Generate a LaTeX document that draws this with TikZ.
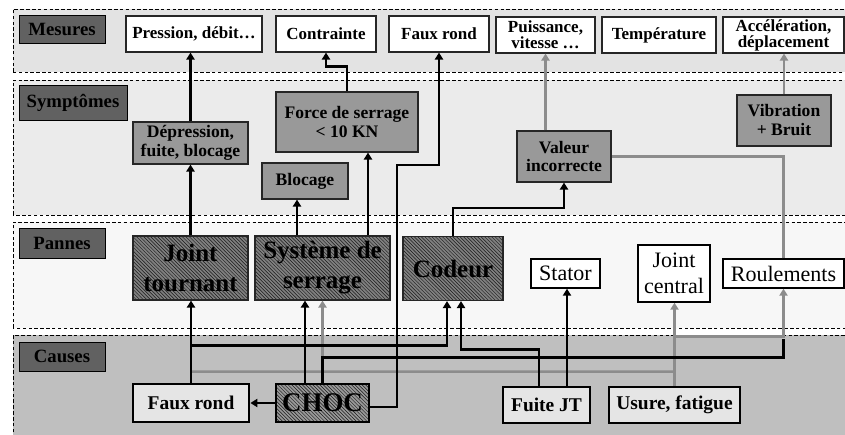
\documentclass[tikz,border=0pt]{standalone}
\usepackage{fontspec}
\setmainfont{Liberation Serif}
\usetikzlibrary{arrows.meta,patterns}

\begin{document}
\begin{tikzpicture}[
    band/.style={draw, dash pattern=on 3pt off 2pt, line width=0.6pt},
    tag/.style={draw, line width=0.8pt, fill=black!62, inner sep=0pt, font=\fontsize{16}{16}\selectfont\bfseries},
    mesure/.style={draw=black!85, line width=1pt, fill=white, align=center, inner sep=0pt, minimum height=1.08cm, font=\fontsize{14.5}{13.8}\selectfont\bfseries},
    symptome/.style={draw=black!85, line width=1pt, fill=black!40, align=center, inner sep=0pt, font=\fontsize{15}{16.2}\selectfont\bfseries},
    panne/.style={draw=black!85, line width=1pt, preaction={fill=black!50}, pattern=north west lines, pattern color=black!90, align=center, inner sep=0pt, minimum height=1.92cm, font=\fontsize{21.3}{25.6}\selectfont\bfseries},
    piece/.style={draw, line width=1.2pt, fill=white, align=center, inner sep=0pt, font=\fontsize{18.8}{22.5}\selectfont},
    cause/.style={draw, line width=2.4pt, fill=black!10, inner sep=0pt, minimum height=1.08cm, font=\fontsize{16.6}{16.6}\selectfont\bfseries},
    arrow/.style={-{Triangle[length=6pt,width=7pt]}, line width=2.2pt},
    link/.style={line width=2.2pt},
    grayarrow/.style={-{Triangle[length=6pt,width=7pt]}, line width=2pt, black!45},
    graylink/.style={line width=2pt, black!45}
]
\useasboundingbox (0,0) rectangle (25.35,13.02);

% Bands
\draw[band, fill=black!11] (0.39,10.86) rectangle (25.7,12.75);
\draw[band, fill=black!8] (0.39,6.57) rectangle (25.7,10.62);
\draw[band, fill=black!3] (0.39,3.18) rectangle (25.7,6.36);
\draw[band, fill=black!25] (0.39,-0.3) rectangle (25.7,2.97);

\node[tag, minimum width=2.58cm, minimum height=0.84cm] (tmes) at (1.86,12.15) {Mesures};
\node[tag, minimum width=3.24cm, minimum height=1.05cm] (tsym) at (2.19,9.945) {Symptômes};
\node[tag, minimum width=2.58cm, minimum height=0.9cm] (tpan) at (1.86,5.73) {Pannes};
\node[tag, minimum width=2.58cm, minimum height=0.87cm] (tcau) at (1.86,2.325) {Causes};

% Mesures
\node[mesure, minimum width=4.08cm] (pres) at (5.82,12.0) {Pression, débit…};
\node[mesure, minimum width=3.0cm] (contr) at (9.78,12.0) {Contrainte};
\node[mesure, minimum width=3.0cm] (fauxm) at (13.17,12.0) {Faux rond};
\node[mesure, minimum width=2.97cm] (puis) at (16.365,11.97) {Puissance,\\vitesse …};
\node[mesure, minimum width=3.42cm] (temp) at (19.77,11.97) {Température};
\node[mesure, minimum width=3.63cm] (accel) at (23.505,11.97) {Accélération,\\déplacement};

% Symptômes
\node[symptome, minimum width=3.45cm, minimum height=1.26cm] (depr) at (5.715,8.73) {Dépression,\\fuite, blocage};
\node[symptome, minimum width=4.26cm, minimum height=1.8cm] (force) at (10.41,9.36) {Force de serrage\\< 10 KN};
\node[symptome, minimum width=2.58cm, minimum height=1.08cm] (bloc) at (9.15,7.59) {Blocage};
\node[symptome, minimum width=2.82cm, minimum height=1.53cm] (val) at (16.92,8.325) {Valeur\\incorrecte};
\node[symptome, minimum width=2.82cm, minimum height=1.53cm] (vib) at (23.52,9.405) {Vibration\\+ Bruit};

% Pannes
\node[panne, minimum width=3.45cm] (jt) at (5.715,4.98) {Joint\\tournant};
\node[panne, minimum width=4.05cm] (sys) at (9.675,4.98) {Système de\\serrage};
\node[panne, minimum width=3.0cm] (cod) at (13.59,4.965) {Codeur};
\node[piece, minimum width=2.07cm, minimum height=0.87cm] (stat) at (16.965,4.815) {Stator};
\node[piece, minimum width=2.16cm, minimum height=1.71cm] (jc) at (20.22,4.815) {Joint\\central};
\node[piece, minimum width=3.63cm, minimum height=0.87cm] (roul) at (23.505,4.815) {Roulements};

% Causes
\node[cause, minimum width=3.48cm, minimum height=1.14cm] (fr) at (5.73,0.93) {Faux rond};
\node[panne, line width=2.4pt, draw=black, preaction={fill=black!40}, minimum width=2.79cm, minimum height=1.14cm, font=\fontsize{23}{23}\selectfont\bfseries] (choc) at (9.675,0.93) {CHOC};
\node[cause, minimum width=2.61cm] (fuite) at (16.395,0.87) {Fuite JT};
\node[cause, minimum width=3.93cm] (usure) at (20.235,0.87) {Usure, fatigue};

% Gray links
\draw[grayarrow] (val.north -| puis.south) -- (puis.south);
\draw[grayarrow] (vib.north) -- (vib.north |- accel.south);
\draw[graylink] (roul.north) |- (val.east);
\draw[graylink] ([yshift=0.42cm]usure.north) -- ([yshift=0.33cm]fr.north);
\draw[grayarrow] (usure.north) -- (usure.north |- jc.south);
\draw[grayarrow] ([yshift=1.47cm]usure.north) -| (roul.south);
\draw[grayarrow] (choc.north) -- (sys.south);

% Black links
\draw[arrow] (depr.north) -- (depr.north |- pres.south);
\draw[arrow] (force.north) -- ++(0,0.75) -| (contr.south);
\draw[arrow] ([yshift=-0.12cm]choc.east) -| (11.91,8.07) -| (fauxm.south);
\draw[arrow] (jt.north) -- (depr.south);
\draw[arrow] ([xshift=-0.24cm]bloc.south |- sys.north) -- ([xshift=-0.24cm]bloc.south);
\draw[arrow] ([xshift=0.63cm]force.south |- sys.north) -- ([xshift=0.63cm]force.south);
\draw[arrow] (cod.north) -- ++(0,0.84) -| (val.south);
\draw[arrow] (fr.north) -- (fr.north |- jt.south);
\draw[arrow] (fr.north) -- ++(0,1.11) -| ([xshift=-0.18cm]cod.south);
\draw[link] (choc.north) -- ++(0,0.75) -| ([yshift=-1.5cm]roul.south);
\draw[arrow] ([xshift=-0.525cm]choc.north) -- ([xshift=-0.525cm]sys.south);
\draw[arrow] (choc.west) -- (fr.east);
\draw[arrow] ([xshift=-0.225cm]fuite.north) -- ++(0,1.08) -| ([xshift=0.24cm]cod.south);
\draw[arrow] ([xshift=0.615cm]fuite.north) -- ([xshift=0.615cm]fuite.north |- stat.south);
\end{tikzpicture}
\end{document}
